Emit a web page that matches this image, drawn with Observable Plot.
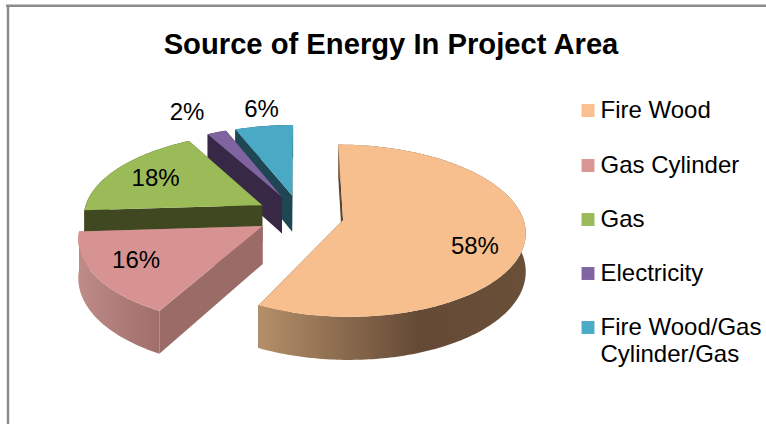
<!DOCTYPE html>
<html>
<head>
<meta charset="utf-8">
<script src="https://cdn.jsdelivr.net/npm/d3@7"></script>
<script src="https://cdn.jsdelivr.net/npm/@observablehq/plot@0.6"></script>
<style>html,body{margin:0;padding:0;background:#fff}svg{display:block}</style>
</head>
<body>
<div id="chart"></div>
<script>
const chartTitle = "Source of Energy In Project Area";
const categories = ["Fire Wood", "Gas Cylinder", "Gas", "Electricity", "Fire Wood/Gas Cylinder/Gas"];
const legendLines = [["Fire Wood"], ["Gas Cylinder"], ["Gas"], ["Electricity"], ["Fire Wood/Gas", "Cylinder/Gas"]];
const shares = [58, 16, 18, 2, 6];
const topColors = ["#f7bf8e", "#d69392", "#9bbb59", "#8064a2", "#4aa9c4"];
const wallColors = ["#5c4630", "#9a6b67", "#404822", "#372845", "#1e4753"];
const rimFills = ["url(#rim0)", "url(#rim1)", "#404822", "#372845", "#1e4753"];
const legendColors = ["#fac090", "#d99694", "#9bbb59", "#8064a2", "#4bacc6"];
const labelRadius = [0.755, 0.755, 0.725, 1.38, 1.27];
const labelTurn = [8.6, 2, -0.5, -2.4, 1.3];
const sweepTrim = [2.5, 0, 0, 0, 0];

// 3D view of the pie
const cx = 299.7, cy = 214.4, Rx = 179.2, Ry = 83.5, persp = 0.123, depth = 37.5, explode = 0.245;
const rad = d => d * Math.PI / 180;
function project(mid, angle, r, down = false) {
  const X = explode * Math.sin(rad(mid)) + r * Math.sin(rad(angle));
  const V = -explode * Math.cos(rad(mid)) - r * Math.cos(rad(angle));
  const w = 1 - persp * V;
  return {x: cx + Rx * X / w, y: cy + Ry * V / w + (down ? depth / w : 0)};
}

let acc = 0;
const slices = shares.map((v, i) => {
  const a0 = acc * 3.6; acc += v; const a1 = acc * 3.6;
  return {i, a0, a1: a1 - sweepTrim[i], mid: (a0 + a1) / 2};
});
function arc(s, down) {
  const n = Math.max(4, Math.ceil(s.a1 - s.a0));
  return d3.range(n + 1).map(k => project(s.mid, s.a0 + (s.a1 - s.a0) * k / n, 1, down));
}
const poly = (pts, fill) => Plot.line(pts, {x: "x", y: "y", fill, stroke: "none", curve: "linear"});

function sliceMarks(s) {
  const apexT = project(s.mid, 0, 0), apexB = project(s.mid, 0, 0, true);
  const wall = a => [apexT, project(s.mid, a, 1), project(s.mid, a, 1, true), apexB, apexT];
  return [
    poly(wall(s.a0), wallColors[s.i]),
    poly(wall(s.a1), wallColors[s.i]),
    poly([...arc(s, false), ...arc(s, true).reverse()], rimFills[s.i]),
    poly([apexT, ...arc(s, false), apexT], topColors[s.i])
  ];
}

const drawOrder = [4, 3, 2, 1, 0];
const labels = slices.map(s => ({
  ...project(s.mid, s.mid + labelTurn[s.i], labelRadius[s.i]),
  text: shares[s.i] + "%"
}));

const legendRows = [110, 165, 219, 273, 327];
const legendSwatches = categories.map((name, i) => ({name, x: 587.5, y: legendRows[i], color: legendColors[i]}));
const legendTexts = legendLines.flatMap((lines, i) =>
  lines.map((text, k) => ({text, x: 600, y: legendRows[i] + k * 27})));

function gradient(id, stops) {
  const g = d3.create("svg:linearGradient").attr("id", id).attr("x1", 0).attr("x2", 1).attr("y1", 0).attr("y2", 0);
  stops.forEach(([o, c]) => g.append("stop").attr("offset", o).attr("stop-color", c));
  return g.node();
}
const defsMark = () => {
  const defs = d3.create("svg:defs");
  defs.append(() => gradient("rim0", [[0, "#b58f69"], [0.6, "#644a36"], [1, "#6a4f38"]]));
  defs.append(() => gradient("rim1", [[0, "#bf8c88"], [0.6, "#ab7a76"], [1, "#a06e6b"]]));
  return defs.node();
};

const font = "Liberation Sans, Arial, sans-serif";
const plot = Plot.plot({
  width: 766, height: 424, margin: 0,
  style: {background: "#fff", fontFamily: font},
  x: {domain: [0, 766], range: [0, 766], axis: null},
  y: {domain: [0, 424], range: [0, 424], axis: null},
  marks: [
    defsMark,
    Plot.ruleX([7.5], {y1: 5, y2: 424, stroke: "#8c8c8c", strokeWidth: 2.5}),
    Plot.ruleY([5.3], {x1: 6, x2: 766, stroke: "#8c8c8c", strokeWidth: 2.5}),
    Plot.text([chartTitle], {x: 390.5, y: 44, text: d => d, fontSize: 29.2, fontWeight: 700, fill: "#000", fontFamily: font}),
    ...drawOrder.flatMap(i => sliceMarks(slices[i])),
    Plot.text(labels, {x: "x", y: "y", text: "text", fontSize: 24, fill: "#000", fontFamily: font}),
    Plot.dot(legendSwatches, {x: "x", y: "y", symbol: "square", r: 7.3, fill: "color", stroke: "none"}),
    Plot.text(legendTexts, {x: "x", y: "y", text: "text", textAnchor: "start", fontSize: 24, fill: "#000", fontFamily: font})
  ]
});
document.getElementById("chart").append(plot);
</script>
</body>
</html>
